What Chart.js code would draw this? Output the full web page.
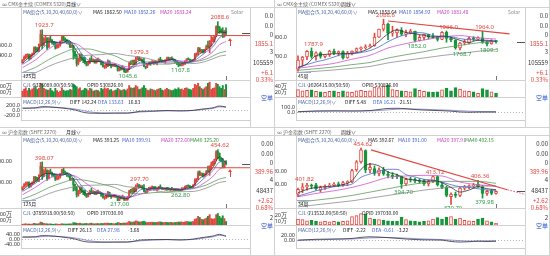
<!DOCTYPE html>
<html>
<head>
<meta charset="utf-8">
<script src="https://cdn.jsdelivr.net/npm/chart.js@4.4.1/dist/chart.umd.min.js"></script>
<style>
  body { margin:0; background:#fff; width:550px; height:256px; overflow:hidden;
         font-family:"Noto Sans CJK SC","Noto Sans",sans-serif; }
  .panel { position:absolute; width:275px; height:128px; background:#fff; overflow:hidden; }
  .t { position:absolute; white-space:nowrap; font-size:5.5px; line-height:6px; color:#222;
       transform:scale(0.9); transform-origin:left top; }
  .t.r { transform:none; }
  .ln { position:absolute; background:#d2d2d2; }
  canvas { position:absolute; left:0; }
</style>
</head>
<body>
<div class="panel" id="tl" style="left:0;top:0"></div>
<div class="panel" id="tr" style="left:275px;top:0"></div>
<div class="panel" id="bl" style="left:0;top:128px"></div>
<div class="panel" id="br" style="left:275px;top:128px"></div>
<script>
// ---- CMX gold, monthly (2010/09 .. 2021/01) ----
const tlOpen = [1248,1307,1357,1386,1421,1333,1410,1439,1556,1536, 1500,1628,1828,1624,1725,1746,1566,1738,1711,1669, 1664,1564,1604,1622,1690,1776,1718,1714,1675,1663, 1578,1596,1472,1393,1234,1323,1396,1327,1323,1250, 1202,1240,1321,1283,1295,1246,1322,1282,1287,1210, 1172,1175,1184,1279,1213,1184,1184,1190,1172,1095, 1133,1115,1142,1065,1061,1118,1238,1235,1293,1215, 1321,1351,1309,1317,1273,1172,1152,1211,1253,1249, 1268,1269,1242,1270,1322,1284,1271,1275,1309,1344, 1318,1327,1316,1305,1253,1233,1206,1196,1219,1226, 1283,1325,1316,1298,1285,1311,1413,1437,1529,1472, 1514,1472,1523,1589,1567,1596,1694,1751,1800,1986, 1978,1895,1880,1780,1895];
const tlHigh = [1310,1388,1424,1432,1424,1414,1447,1575,1577,1562, 1632,1917,1923.7,1764,1804,1763,1764,1791,1723,1680, 1668,1640,1630,1695,1790,1798,1755,1726,1697,1679, 1617,1606,1488,1424,1348,1434,1424,1362,1362,1266, 1280,1345,1392,1331,1315,1325,1345,1324,1290,1256, 1205,1240,1307,1290,1224,1225,1232,1205,1175,1170, 1158,1192,1146,1089,1128,1264,1287,1305,1306,1362, 1379.3,1368,1352,1326,1337,1183,1220,1264,1262,1295, 1274,1296,1275,1330,1362,1307,1300,1311,1367,1365, 1356,1369,1326,1309,1266,1237,1214,1247,1240,1287, 1331,1349,1326,1304,1313,1442,1453,1566,1557,1523, 1519,1526,1612,1691,1704,1788,1775,1802,2005,2088.6, 1992,1941,1966,1909,1962];
const tlLow = [1242,1300,1330,1358,1309,1324,1381,1420,1462,1478, 1478,1600,1535,1600,1670,1523,1563,1688,1627,1614, 1527,1540,1555,1585,1688,1693,1673,1637,1627,1555, 1560,1321,1339,1180,1207,1270,1293,1251,1227,1182, 1200,1238,1277,1268,1240,1240,1280,1273,1205,1160, 1131,1142,1167,1190,1142,1175,1170,1162,1077,1080, 1099,1105,1052,1045.6,1058,1112,1208,1210,1200,1208, 1310,1302,1302,1242,1171,1124,1147,1207,1196,1240, 1214,1238,1204,1262,1276,1260,1266,1236,1303,1307, 1303,1313,1285,1250,1212,1167.8,1184,1183,1196,1217, 1277,1309,1282,1270,1268,1307,1385,1413,1465,1458, 1447,1460,1518,1563,1451,1590,1680,1671,1783,1863, 1849,1860,1764,1775,1802];
const tlClose = [1307,1357,1386,1421,1333,1410,1439,1556,1536,1500, 1628,1828,1624,1725,1746,1566,1738,1711,1669,1664, 1564,1604,1622,1690,1776,1718,1714,1675,1663,1578, 1596,1472,1393,1234,1323,1396,1327,1323,1250,1202, 1240,1321,1283,1295,1246,1322,1282,1287,1210,1172, 1175,1184,1279,1213,1184,1184,1190,1172,1095,1133, 1115,1142,1065,1061,1118,1238,1235,1293,1215,1321, 1351,1309,1317,1273,1172,1152,1211,1253,1249,1268, 1269,1242,1270,1322,1284,1271,1275,1309,1344,1318, 1327,1316,1305,1253,1233,1206,1196,1219,1226,1283, 1325,1316,1298,1285,1311,1413,1437,1529,1472,1514, 1472,1523,1589,1567,1596,1694,1751,1800,1986,1978, 1895,1880,1780,1895,1855.1];
// volume, 万手
const tlVol = [420,455,480,430, 470,440,460,480,500,450,470,560,540,470,450,440, 440,470,430,410,470,430,400,420,480,440,420,430, 430,450,440,540,520,500,460,480,430,440,470,460, 430,470,460,420,430,440,430,410,470,450,480,460, 470,440,450,420,430,440,470,450,430,440,450,430, 460,520,480,470,480,520,500,450,460,480,520,470, 440,430,460,450,440,430,450,460,470,440,430,450, 470,450,440,430,440,460,450,480,450,460,440,470, 480,460,450,440,470,540,520,560,500,470,450,480, 500,560,580,450,470,480,560,540,500,470,520,450, 537];
const tlMa5 = [[0,1239],[4,1361],[8,1455],[12,1623],[16,1680],[20,1669],[24,1651],[28,1709],[32,1540],[36,1335],[40,1268],[44,1277],[48,1269],[52,1204],[56,1210],[60,1141],[64,1100],[68,1220],[72,1303],[76,1225],[80,1250],[84,1277],[88,1297],[92,1322],[96,1239],[100,1250],[104,1307],[108,1432],[112,1514],[116,1639],[120,1882],[124,1862.5]];
const tlMa10 = [[0,1215],[4,1300],[8,1408],[12,1539],[16,1652],[20,1675],[24,1660],[28,1680],[32,1625],[36,1437],[40,1302],[44,1272],[48,1273],[52,1237],[56,1207],[60,1176],[64,1120],[68,1160],[72,1262],[76,1264],[80,1238],[84,1264],[88,1287],[92,1310],[96,1280],[100,1245],[104,1279],[108,1370],[112,1473],[116,1577],[120,1760],[124,1852.26]];
const tlMa20 = [[0,1150],[8,1309],[16,1530],[24,1656],[32,1642],[40,1463],[48,1287],[56,1240],[64,1164],[72,1191],[80,1250],[88,1262],[96,1284],[104,1280],[112,1376],[116,1473],[120,1617],[124,1683.24]];
const tlMa40 = [[0,1050],[8,1155],[16,1315],[24,1443],[32,1531],[40,1531],[48,1468],[56,1395],[64,1270],[72,1227],[80,1225],[88,1220],[96,1252],[104,1268],[112,1325],[120,1450],[124,1482]];
const tlMa60 = [[0,967],[8,1046],[16,1177],[24,1279],[32,1354],[40,1404],[48,1415],[56,1440],[64,1398],[72,1365],[80,1304],[88,1242],[96,1248],[104,1233],[112,1280],[120,1383],[124,1406]];
const tlDiff = [[0,95],[8,110],[12,160],[16,150],[24,100],[32,20],[36,-60],[40,-110],[48,-120],[56,-110],[64,-110],[72,-35],[80,-25],[88,-5],[96,-20],[104,5],[108,45],[112,75],[116,110],[120,185],[124,142.24]];
const tlDea = [[0,90],[8,95],[12,120],[16,140],[24,115],[32,60],[36,10],[40,-50],[48,-105],[56,-115],[64,-110],[72,-65],[80,-35],[88,-15],[96,-15],[104,-5],[108,20],[112,55],[116,85],[120,150],[124,133.63]];
const tlLevel = [[12,1805],[138.6,1805]];
const tlMarks = [[12,'h'],[119,'h'],[70,'h'],[63,'l'],[95,'l']];

// ---- 沪金指数, monthly ----
const blOpen = [268,281,291,296,303,283,298,304,326,321, 313,337,377,335,354,358,320,354,347,339, 338,318,327,330,343,360,348,346,338,334, 316,319,292,276,245,261,275,261,259,245, 236,245,261,254,257,247,261,253,254,239, 231,232,235,255,242,236,236,237,234,218, 232,228,233,220,221,235,261,259,272,259, 283,288,281,282,277,260,257,268,276,277, 280,278,271,275,282,274,271,271,276,274, 269,269,268,268,267,270,265,264,272,274, 284,288,284,281,279,291,313,318,347,336, 344,333,342,353,352,364,385,400,410,446, 438,414,403,375,397];
const blHigh = [282,297,304,305,305,299,305,330,330,326, 338,396,398.07,362,370,361,359,364,350,341, 339,335,332,344,363,370,355,348,341,337, 323,321,295,283,266,282,280,267,267,248, 253,266,276,264,261,262,266,261,255,248, 238,246,261,257,244,244,246,240,235,239, 237,243,236,225,237,266,270,275,279,291, 297.7,293,290,288,292,264,270,279,280,286, 281,283,276,284,291,279,276,276,278,278, 275,279,272,272,274,272,268,278,277,285, 289,291,288,284,291,319,321,355,356,347, 346,343,358,378,380,397,402,411,450,454.62, 440,416,414,400,404];
const blLow = [267,280,284,289,277,280,291,297,306,308, 306,330,316,329,342,311,318,343,330,328, 311,314,316,322,342,343,338,330,327,312, 312,262,265,234,238,250,254,245,240,232, 235,244,253,252,246,245,253,251,238,229, 223,227,233,237,228,234,233,232,217,217.5, 225,225,218.5,219,219,234,253,255,256,258, 280,279,279,270,260,251,254,266,265,273, 266,270,261,269,272,269,269,266,265,267, 264,266,264,264,264,262.8,263,263,268,270, 278,282,278,276,278,289,306,316,335,333, 327,330,337,350,335,360,380,388,405,413, 404,399,371,370,384];
const blClose = [281,291,296,303,283,298,304,326,321,313, 337,377,335,354,358,320,354,347,339,338, 318,327,330,343,360,348,346,338,334,316, 319,292,276,245,261,275,261,259,245,236, 245,261,254,257,247,261,253,254,239,231, 232,235,255,242,236,236,237,234,218,232, 228,233,220,221,235,261,259,272,259,283, 288,281,282,277,260,257,268,276,277,280, 278,271,275,282,274,271,271,276,274,269, 269,268,268,267,270,265,264,272,274,284, 288,284,281,279,291,313,318,347,336,344, 333,342,353,352,364,385,400,410,446,438, 414,403,375,397,389.96];
const blVol = [330,335,340,332, 335,330,336,345,340,335,342,370,360,345,340,338, 335,338,332,330,336,334,330,332,340,336,333,334, 335,338,336,360,355,350,345,350,340,338,342,345, 338,345,350,340,338,342,340,338,345,342,350,348, 352,345,348,342,340,345,360,355,348,350,352,350, 360,380,370,368,372,390,385,370,372,378,385,370, 360,362,365,368,362,360,365,370,372,365,360,365, 362,360,365,360,358,362,365,370,368,372,365,375, 380,375,370,372,380,420,430,470,450,420,410,425, 440,470,500,430,420,430,500,520,470,440,480,430, 378];
const blMa5 = [[0,266],[4,291],[8,306],[12,337],[16,344],[20,339],[24,336],[28,345],[32,307],[36,264],[40,249],[44,253],[48,251],[52,238],[56,241],[60,230],[64,227],[68,257],[72,279],[76,269],[80,276],[84,276],[88,273],[92,270],[96,267],[100,276],[104,285],[108,321],[112,342],[116,371],[120,422],[124,393.25]];
const blMa10 = [[0,260],[4,279],[8,299],[12,322],[16,341],[20,342],[24,338],[28,341],[32,326],[36,286],[40,257],[44,251],[48,252],[52,245],[56,240],[60,236],[64,229],[68,242],[72,268],[76,274],[80,273],[84,276],[88,275],[92,272],[96,269],[100,272],[104,281],[108,303],[112,332],[116,357],[120,397],[124,399.91]];
const blMa20 = [[0,245],[8,280],[16,320],[24,339],[32,332],[40,291],[48,254],[56,246],[64,234],[72,248],[80,270],[88,274],[96,272],[104,275],[112,306],[116,330],[120,364],[124,372.6]];
const blMa40 = [[0,225],[8,248],[16,278],[24,300],[32,316],[40,310],[48,295],[56,279],[64,253],[72,249],[80,255],[88,257],[96,265],[104,273],[112,290],[120,318],[124,325.2]];
const blMa60 = [[0,208],[8,225],[16,250],[24,269],[32,282],[40,289],[48,290],[56,293],[64,282],[72,277],[80,267],[88,256],[96,259],[104,260],[112,276],[120,302],[124,307]];
const blDiff = [[0,20],[8,22],[12,32],[16,30],[24,20],[32,3],[36,-13],[40,-22],[48,-24],[56,-22],[64,-22],[72,-5],[80,-2],[88,-1],[96,-5],[104,3],[108,12],[112,20],[116,28],[120,42],[124,26.13]];
const blDea = [[0,18],[8,19],[12,24],[16,28],[24,23],[32,12],[36,2],[40,-10],[48,-21],[56,-23],[64,-22],[72,-12],[80,-5],[88,-2],[96,-3],[104,-1],[108,6],[112,14],[116,21],[120,34],[124,27.98]];
const blLevel = [[12,370.5],[138.6,370.5]];
const blMarks = [[12,'h'],[119,'h'],[70,'h'],[58,'l'],[95,'l']];

// ---- CMX gold, weekly (2020/03/23 .. 2021/01/25) ----
const trOpen = [1565,1660,1693,1752,1698,1736,1700,1714,1756,1735, 1751,1683,1737,1753,1781,1790,1801,1810,1902,1985, 2040,1944,1947,1975,1934,1948,1962,1866,1900,1930, 1906,1902,1879,1951,1889,1872,1788,1840,1840,1888, 1883,1895,1850,1830,1856];
const trHigh = [1705,1700,1760,1787.9,1747,1747,1717,1765,1775,1756, 1758,1752,1758,1788,1800,1822,1830,1944,1987,2088.6, 2049,2016,1990,2001,1975,1985,1966,1920,1933,1933, 1940,1912,1960,1966,1900,1875,1848,1877,1905,1907, 1905,1964,1864,1875,1867];
const trLow = [1545,1600,1664,1681,1660,1680,1684,1698,1717,1705, 1671,1680,1716,1743,1762,1775,1796,1806,1900,1966, 1874,1911,1902,1918,1906,1935,1852,1862,1873,1882, 1890,1860,1874,1848,1853,1775,1768.7,1820,1830,1865, 1869,1836,1809.3,1827,1838];
const trClose = [1660,1693,1752,1698,1736,1700,1714,1756,1735,1751, 1683,1737,1753,1781,1790,1801,1810,1902,1985,2040, 1944,1947,1975,1934,1948,1962,1866,1900,1930,1906, 1902,1879,1951,1889,1872,1788,1840,1840,1888,1883, 1895,1850,1830,1856,1855.1];
const trVol = [180,150,160,170,140,130,120,140,150,120, 150,130,120,150,160,140,150,230,220,260, 280,180,160,150,140,130,200,160,140,130, 120,130,170,210,150,220,190,150,140,130, 100,200,170,130,102.6];
const trMa5 = [[0,1580],[2,1621],[4,1708],[6,1720],[8,1728],[10,1728],[12,1732],[14,1749],[16,1787],[18,1858],[20,1936],[22,1978],[24,1950],[26,1937],[28,1921],[30,1901],[32,1914],[34,1899],[36,1868],[38,1846],[40,1869],[42,1869],[44,1858.64]];
const trMa10 = [[0,1586],[2,1614],[4,1642],[6,1663],[8,1693],[10,1722],[12,1726],[14,1740],[16,1760],[18,1799],[20,1854],[22,1898],[24,1929],[26,1950],[28,1945],[30,1917],[32,1908],[34,1906],[36,1886],[38,1876],[40,1873],[42,1858],[44,1854.92]];
const trMa20 = [[0,1575],[4,1600],[8,1626],[12,1670],[16,1711],[20,1788],[24,1834],[28,1872],[32,1903],[36,1918],[40,1895],[44,1881.48]];
const trMa40 = [[0,1553],[4,1570],[8,1588],[12,1613],[16,1636],[20,1682],[24,1717],[28,1749],[32,1787],[36,1815],[40,1842],[44,1857]];
const trMa60 = [[0,1530],[4,1543],[8,1557],[12,1575],[16,1594],[20,1631],[24,1658],[28,1683],[32,1709],[36,1730],[40,1753],[44,1771]];
const trDiff = [[0,12],[4,30],[8,32],[12,28],[16,38],[18,60],[20,82],[22,85],[24,75],[26,58],[28,48],[30,40],[32,35],[34,25],[36,8],[38,2],[40,5],[42,6],[44,5.48]];
const trDea = [[0,10],[4,20],[8,27],[12,29],[16,31],[18,38],[20,52],[22,65],[24,72],[26,70],[28,64],[30,57],[32,50],[34,43],[36,33],[38,24],[40,18],[42,16],[44,16.21]];
const trTrend = [[20,2071],[47,1935]];
const trMarks = [[3,'h'],[19,'h'],[26,'l'],[33,'h'],[36,'l'],[41,'h'],[42,'l']];

// ---- 沪金指数, weekly ----
const brOpen = [386,393,397,399,400,392,396,398,399,401, 400,403,404,422,434,451,422,424,417,422, 416,414,413,412,401,408,407,406,406,401, 405,412,400,396,382,386,384,395,397,398, 401,397,387,390,387];
const brHigh = [395,401.82,402,401,402,398,400,402,403,404, 405,406,423,436,454.62,452,432,428,425,426, 420,418,416,413,410,411,410,409,408,407, 413.12,413,403,398,388,389,396,399,400,402, 406.36,399,392,393,391];
const brLow = [382,388,392,394,392,389,393,396,397,397, 398,399,403,420,432,418,418,414,413,414, 410,409,409,394.7,399,404,403,402,399,398, 403,398,394,382,370.7,381,382,392,394,395, 396,379.98,384,385,386];
const brClose = [393,397,399,398,394,396,398,399,401,400, 403,404,421,434,452,422,426,417,422,416, 414,412,412,401,408,407,406,405,401,405, 412,400,396,384,386,384,395,397,398,400, 397,387,390,387,389.96];
const brVol = [150,140,120,130,110,100,110,100,110,100, 110,120,200,220,260,250,170,150,140,130, 120,110,110,190,140,120,110,100,110,120, 150,180,150,190,200,150,170,130,120,110, 150,170,120,100,71.4];
const brMa5 = [[0,388],[2,393],[4,396],[6,397],[8,398],[10,400],[12,406],[14,423],[16,431],[18,428],[20,419],[22,415],[24,409],[26,407],[28,405],[30,406],[32,403],[34,396],[36,389],[38,392],[40,397],[42,394],[44,392.67]];
const brMa10 = [[0,383],[2,387],[4,391],[6,394],[8,397],[10,398.5],[12,401],[14,411],[16,416],[18,420],[20,423],[22,423],[24,415],[26,411.5],[28,408],[30,407],[32,404],[34,400],[36,397],[38,396],[40,394],[42,392],[44,391]];
const brMa20 = [[0,382],[4,387],[8,391],[12,396],[16,403],[20,411],[24,413],[28,414],[32,413],[36,404],[40,400],[44,397.91]];
const brMa40 = [[0,374],[4,377],[8,380],[12,384],[16,389],[20,394],[24,399],[28,403],[32,405],[36,405],[40,405],[44,402.15]];
const brMa60 = [[0,367],[4,370],[8,373],[12,376],[16,380],[20,384],[24,388],[28,392],[32,395],[36,397],[40,398],[44,398]];
const brDiff = [[0,2],[4,5],[8,6],[12,8],[14,12],[16,14],[18,13],[20,11],[24,6],[28,3],[32,2],[34,-3],[36,-5],[38,-4],[40,-2],[42,-3],[44,-2.22]];
const brDea = [[0,1],[4,3],[8,5],[12,6],[14,8],[16,10],[18,11],[20,11.5],[24,9],[28,6],[32,4],[34,2],[36,0],[38,-1.5],[40,-1.5],[42,-1],[44,-0.61]];
const brTrend = [[16.2,452],[46.5,392.5]];
const brTrendExt = [[46.5,392.5],[51,384.7]];
const brMarks = [[1,'h'],[14,'h'],[23,'l'],[30,'h'],[34,'l'],[40,'h'],[41,'l']];

// x axis ticks
const monthTicks = [4, 28, 52, 76, 100, 124];
const monthTickLabels = ['2011/01', '2013/01', '2015/01', '2017/01', '2019/01', '2021/01'];

const RED = '#e2463f', GREEN = '#17953b', FONT = '"Noto Sans", "DejaVu Sans", sans-serif';
const C_MA = ['#333333', '#4a6ad0', '#d055c8', '#5f9a5f', '#8d8d8d'];

function pairs(a) { return a.map(p => ({ x: p[0], y: p[1] })); }

function txt(el, x, y, s, color, size, right) {
  const d = document.createElement('div');
  d.className = right ? 't r' : 't';
  if (right) d.style.right = x + 'px'; else d.style.left = x + 'px';
  d.style.top = y + 'px';
  if (color) d.style.color = color;
  if (size) { d.style.fontSize = size + 'px'; d.style.lineHeight = (size + 1) + 'px'; }
  d.textContent = s;
  el.appendChild(d);
}
function line(el, x, y, w, h, c) {
  const d = document.createElement('div');
  d.className = 'ln';
  d.style.cssText = `left:${x}px;top:${y}px;width:${w}px;height:${h}px` + (c ? `;background:${c}` : '');
  el.appendChild(d);
}
function canvasAt(el, top, h) {
  const c = document.createElement('canvas');
  c.width = 250; c.height = h;
  c.style.top = top + 'px';
  el.appendChild(c);
  return c;
}
function opts(scales) {
  return { responsive: false, animation: false, events: [], layout: { padding: 0 },
    plugins: { legend: { display: false }, tooltip: { enabled: false } }, scales };
}
function yAxis(min, max, ticks, fmt) {
  return { min, max, position: 'left',
    afterFit: s => { s.width = 21; s.paddingTop = 0; s.paddingBottom = 0; },
    afterBuildTicks: s => { s.ticks = ticks.map(v => ({ value: v })); },
    ticks: { font: { size: 5.5, family: FONT }, color: '#333', padding: 1, autoSkip: false, callback: fmt },
    grid: { display: false }, border: { color: '#cfcfcf' } };
}

function marksPlugin(p) {
  return {
    id: 'marks',
    afterDatasetsDraw(chart) {
      const { ctx, chartArea: a, scales: { x, y } } = chart;
      ctx.save();
      ctx.font = '6px ' + FONT;
      ctx.textAlign = 'center';
      p.marks.forEach(([i, k]) => {
        const hi = k === 'h';
        const v = hi ? p.high[i] : p.low[i];
        const px = x.getPixelForValue(i), py = y.getPixelForValue(v);
        ctx.fillStyle = hi ? '#e0463e' : '#2f9a46';
        ctx.textBaseline = hi ? 'bottom' : 'top';
        ctx.fillText(v.toFixed(p.dec), px + 2, hi ? py - 1 : py + 1);
      });
      const last = p.close.length - 1;
      const ly = Math.round(y.getPixelForValue(p.close[last])) + 0.5;
      ctx.strokeStyle = '#555'; ctx.lineWidth = 1;
      ctx.beginPath(); ctx.moveTo(a.right - 8, ly); ctx.lineTo(a.right, ly); ctx.stroke();
      const lx = Math.round(x.getPixelForValue(last)) + 0.5;
      ctx.strokeStyle = '#777';
      ctx.beginPath(); ctx.moveTo(lx, a.bottom - 4); ctx.lineTo(lx, a.bottom); ctx.stroke();
      ctx.restore();
    }
  };
}

function drawPanel(p) {
  const el = document.getElementById(p.id);
  const idx = p.close.map((_, i) => i);
  const up = i => p.close[i] >= p.open[i];
  const xs = { type: 'linear', min: p.xMin, max: p.xMax, display: false, offset: false };

  // frame
  line(el, 0, 7, 275, 1);
  line(el, 0, 80, 250, 1);
  line(el, 0, 97, 250, 1);
  line(el, 250, 7, 1, 121);
  line(el, 274, 0, 1, 128);
  line(el, 0, 127, 275, 1);

  const main = [
    ...p.mas.map((m, k) => ({ type: 'line', data: pairs(m), borderColor: C_MA[k], borderWidth: 0.8,
      pointRadius: 0, cubicInterpolationMode: 'monotone', order: 1 })),
    ...p.trend.map(t => ({ type: 'line', data: pairs(t.data), borderColor: t.color, borderWidth: t.w,
      borderDash: t.dash || [], pointRadius: 0, order: 0 })),
    { data: idx.map(i => ({ x: i, y: [p.low[i], p.high[i]] })), backgroundColor: idx.map(i => up(i) ? RED : GREEN),
      barThickness: 1, grouped: false, order: 3 },
    { data: idx.map(i => ({ x: i, y: [p.open[i], p.close[i]] })), backgroundColor: idx.map(i => up(i) ? p.upFill : GREEN),
      borderColor: idx.map(i => up(i) ? RED : GREEN), borderWidth: p.bodyBorder, borderSkipped: false,
      barThickness: p.bodyW, minBarLength: 1, grouped: false, order: 2 }
  ];
  new Chart(canvasAt(el, 8, 72), { type: 'bar', data: { datasets: main },
    options: opts({ x: xs, y: yAxis(p.yMin, p.yMax, p.yTicks, v => v.toFixed(p.dec)) }),
    plugins: [marksPlugin(p)] });

  new Chart(canvasAt(el, 81, 16), { type: 'bar', data: { datasets: [
      { data: idx.map(i => ({ x: i, y: p.vol[i] })), base: p.vMin,
        backgroundColor: idx.map(i => up(i) ? p.upFill : GREEN), borderColor: idx.map(i => up(i) ? RED : GREEN),
        borderWidth: p.bodyBorder, borderSkipped: false, barThickness: p.bodyW, grouped: false }] },
    options: opts({ x: xs, y: yAxis(p.vMin, p.vMax, p.vTicks, v => v + '万') }) });

  const my = yAxis(p.mMin, p.mMax, p.mTicks, v => v.toFixed(p.mDec));
  my.grid = { display: true, drawTicks: false, color: c => (c.tick && c.tick.value === 0) ? '#b5b5b5' : 'rgba(0,0,0,0)' };
  my.border = { color: '#cfcfcf', dash: [1, 2] };
  new Chart(canvasAt(el, 98, 30), { type: 'line', data: { datasets: [
      { data: pairs(p.diff), borderColor: '#333', borderWidth: 0.8, pointRadius: 0, cubicInterpolationMode: 'monotone' },
      { data: pairs(p.dea), borderColor: '#7b7fd6', borderWidth: 0.8, pointRadius: 0, cubicInterpolationMode: 'monotone' }] },
    options: opts({
      x: { type: 'linear', min: p.xMin, max: p.xMax, offset: false, position: 'bottom',
        afterFit: s => { s.height = 8; s.paddingLeft = 0; s.paddingRight = 0; },
        afterBuildTicks: s => { s.ticks = p.xTicks.map(v => ({ value: v })); },
        ticks: { font: { size: 5.5, family: FONT }, color: '#333', padding: 1, maxRotation: 0, autoSkip: false,
          callback: v => p.xLabels[p.xTicks.indexOf(v)] },
        grid: { display: false }, border: { color: '#cfcfcf' } },
      y: my }) });

  // texts
  txt(el, 2, 1, '∞ ' + p.title, '#666', 5.5);
  txt(el, 66, 1, p.period + '∨', '#222', 5.5);
  p.legend.forEach(([x, s, c]) => txt(el, x, 9, s, c));
  p.cjl.forEach(([x, s, c]) => txt(el, x, 82, s, c));
  p.macd.forEach(([x, s, c]) => txt(el, x, 99, s, c));
  txt(el, 23, 73, p.count, '#222', 5.5);
  line(el, 22, 72, 14, 1, '#9aa7c8');
  p.side.forEach(([y, s, c]) => txt(el, 2, y, s, c, 6, true));
  if (p.arrow) {
    const a = document.createElement('div');
    a.style.cssText = 'position:absolute;left:228px;top:' + p.arrow + 'px;width:0;height:0;border-left:2.5px solid transparent;border-right:2.5px solid transparent;border-bottom:3px solid ' + RED;
    el.appendChild(a);
    line(el, 230, p.arrow + 3, 1, 5, RED);
  }
}

const L_BLUE = '#4a64a0', C5 = '#222', C10 = '#3b5fd0', C20 = '#c83cc0', C40 = '#2f8f2f';
const sideTop = [[12, '0.0', '#333'], [22, '0.0', '#333'], [31, '0', '#333'], [40, '1855.1', RED], [48, '3', '#333'],
  [59, '105559', '#333'], [69, '+6.1', RED], [76, '0.33%', RED], [94, '空单', '#2f55c8']];
const sideBot = [[12, '0.00', '#333'], [22, '0.00', '#333'], [31, '0', '#333'], [40, '389.96', RED], [48, '4', '#333'],
  [59, '48437', '#333'], [69, '+2.62', RED], [76, '0.68%', RED], [86, '2', '#333'], [94, '空单', '#2f55c8']];

drawPanel({ id: 'tl', title: 'CMX金主续 (COMEX 5320)', period: '月线', count: '125月',
  open: tlOpen, high: tlHigh, low: tlLow, close: tlClose, vol: tlVol,
  mas: [tlMa5, tlMa10, tlMa20, tlMa40, tlMa60], diff: tlDiff, dea: tlDea,
  trend: [{ data: tlLevel, color: RED, w: 1 }], marks: tlMarks, dec: 1,
  xMin: -0.914, xMax: 138.6, yMin: 896, yMax: 2369, yTicks: [1600, 1400],
  vMin: 317, vMax: 600, vTicks: [500, 400], mMin: -400, mMax: 520, mTicks: [200, 0, -200], mDec: 1,
  xTicks: monthTicks, xLabels: monthTickLabels, upFill: RED, bodyW: 1.3, bodyBorder: 0,
  legend: [[23, 'MA组合(5,10,20,40,60,0)∨', L_BLUE], [93, 'MA5 1862.50', C5], [124, 'MA10 1852.26', C10], [160, 'MA20 1683.24', C20], [231, 'Solar', '#888']],
  cjl: [[23, 'CJL∨', L_BLUE], [33, '5375089.00(50:50)', C5], [87, 'OPID 530826.00', C5]],
  macd: [[23, 'MACD(12,26,9)∨', L_BLUE], [70, 'DIFF 142.24', C5], [98, 'DEA 133.63', C10], [128, '16.83', C5]],
  side: sideTop, arrow: 38 });

drawPanel({ id: 'bl', title: '沪金指数 (SHFE 2270)', period: '月线', count: '125月',
  open: blOpen, high: blHigh, low: blLow, close: blClose, vol: blVol,
  mas: [blMa5, blMa10, blMa20, blMa40, blMa60], diff: blDiff, dea: blDea,
  trend: [{ data: blLevel, color: RED, w: 1 }], marks: blMarks, dec: 2,
  xMin: -0.914, xMax: 138.6, yMin: 183, yMax: 518.5, yTicks: [400, 300],
  vMin: 317, vMax: 600, vTicks: [500, 400], mMin: -72, mMax: 112, mTicks: [40, 0, -40], mDec: 2,
  xTicks: monthTicks, xLabels: monthTickLabels, upFill: RED, bodyW: 1.3, bodyBorder: 0,
  legend: [[23, 'MA组合(5,10,20,40,60,0)∨', L_BLUE], [93, 'MA5 393.25', C5], [122, 'MA10 399.91', C10], [161, 'MA20 372.60', C20], [190, 'MA40 325.20', C40]],
  cjl: [[23, 'CJL∨', L_BLUE], [33, '3785918.00(50:50)', C5], [87, 'OPID 197030.00', C5]],
  macd: [[23, 'MACD(12,26,9)∨', L_BLUE], [68, 'DIFF 26.13', C5], [97, 'DEA 27.98', C10], [128, '-3.68', C5]],
  side: sideBot, arrow: 41 });

drawPanel({ id: 'tr', title: 'CMX金主续 (COMEX 5320)', period: '周线', count: '45周',
  open: trOpen, high: trHigh, low: trLow, close: trClose, vol: trVol,
  mas: [trMa5, trMa10, trMa20, trMa40, trMa60], diff: trDiff, dea: trDea,
  trend: [{ data: trTrend, color: RED, w: 1.2 }], marks: trMarks, dec: 1,
  xMin: -0.444, xMax: 50.44, yMin: 1451.6, yMax: 2207.6, yTicks: [1900, 1700],
  vMin: 20, vMax: 360, vTicks: [240, 120], mMin: -160, mMax: 300, mTicks: [100, 0], mDec: 1,
  xTicks: [41], xLabels: ['2021/01'], upFill: '#fff', bodyW: 3, bodyBorder: 1,
  legend: [[23, 'MA组合(5,10,20,40,60,0)∨', L_BLUE], [93, 'MA5 1858.64', C5], [124, 'MA10 1854.92', C10], [162, 'MA20 1881.48', C20], [233, 'Solar', '#888']],
  cjl: [[23, 'CJL∨', L_BLUE], [33, '1026415.00(50:50)', C5], [87, 'OPID 530826.00', C5]],
  macd: [[23, 'MACD(12,26,9)∨', L_BLUE], [70, 'DIFF 5.48', C5], [98, 'DEA 16.21', C10], [123, '-21.51', C5]],
  side: sideTop, arrow: 0 });

drawPanel({ id: 'br', title: '沪金指数 (SHFE 2270)', period: '周线', count: '34周',
  open: brOpen, high: brHigh, low: brLow, close: brClose, vol: brVol,
  mas: [brMa5, brMa10, brMa20, brMa40, brMa60], diff: brDiff, dea: brDea,
  trend: [{ data: brTrend, color: RED, w: 1.2 }, { data: brTrendExt, color: '#e07a9a', w: 1, dash: [2, 1] }],
  marks: brMarks, dec: 2,
  xMin: -0.444, xMax: 50.44, yMin: 365.3, yMax: 472.6, yTicks: [420, 400],
  vMin: 37, vMax: 348, vTicks: [220, 110], mMin: -26.7, mMax: 53.3, mTicks: [20, 0], mDec: 2,
  xTicks: [40], xLabels: ['2021/01'], upFill: '#fff', bodyW: 3, bodyBorder: 1,
  legend: [[23, 'MA组合(5,10,20,40,60,0)∨', L_BLUE], [93, 'MA5 392.67', C5], [123, 'MA10 391.00', C10], [162, 'MA20 397.91', C20], [190, 'MA40 402.15', C40]],
  cjl: [[23, 'CJL∨', L_BLUE], [33, '713532.00(50:50)', C5], [87, 'OPID 197030.00', C5]],
  macd: [[23, 'MACD(12,26,9)∨', L_BLUE], [68, 'DIFF -2.22', C5], [97, 'DEA -0.61', C10], [122, '-3.22', C5]],
  side: sideBot, arrow: 0 });
</script>
</body>
</html>
